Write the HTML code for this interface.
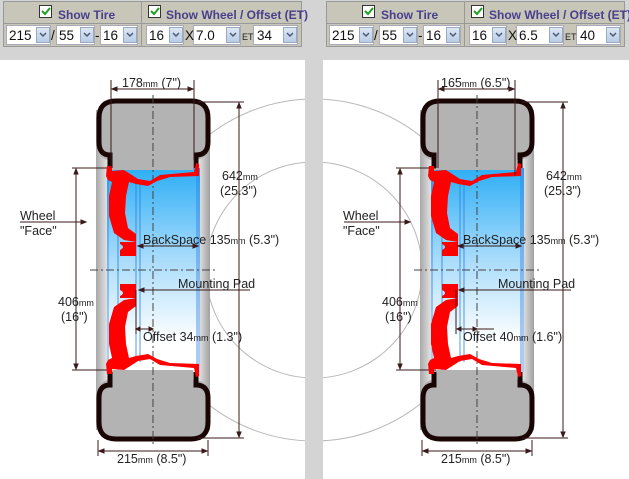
<!DOCTYPE html>
<html><head><style>
html,body{margin:0;padding:0;background:#d4d4d4}
svg{display:block}
text{font-family:"Liberation Sans",sans-serif;font-size:12.5px;fill:#222}
.h{font-weight:bold;fill:#4a3f8c;font-size:12px}
.s{font-size:13.5px;fill:#111}
.m{font-size:9px}
</style></head><body>
<svg width="629" height="479" viewBox="0 0 629 479" xmlns="http://www.w3.org/2000/svg">
<defs>
<linearGradient id="side" x1="0" x2="1" y1="0" y2="0">
<stop offset="0" stop-color="#a8a8a8"/><stop offset="0.1" stop-color="#e4e4e4"/><stop offset="0.5" stop-color="#ffffff"/><stop offset="0.9" stop-color="#e4e4e4"/><stop offset="1" stop-color="#a0a0a0"/>
</linearGradient>
<linearGradient id="blue" x1="0" x2="0" y1="0" y2="1">
<stop offset="0" stop-color="#2eaef5"/><stop offset="0.45" stop-color="#a9dcfb"/><stop offset="0.85" stop-color="#ffffff"/><stop offset="1" stop-color="#ffffff"/>
</linearGradient>
<linearGradient id="btn" x1="0" x2="0" y1="0" y2="1"><stop offset="0" stop-color="#dfe8f5"/><stop offset="1" stop-color="#b8cbe6"/></linearGradient>
<g id="tire">
<rect x="96" y="110" width="114" height="320" fill="url(#side)"/>
<rect x="107" y="168" width="93" height="204" fill="url(#blue)"/>
<g stroke="#2a7ee0" stroke-width="1" opacity="0.8">
<line x1="108" y1="168" x2="108" y2="372"/><line x1="118" y1="168" x2="118" y2="372"/><line x1="136" y1="180" x2="136" y2="362"/><line x1="140" y1="180" x2="140" y2="362"/><line x1="197" y1="168" x2="197" y2="372"/><line x1="199" y1="168" x2="199" y2="372"/>
</g>
<path d="M97,155 V118 Q97,99 116,99 H191 Q210,99 210,118 V142 Q210,160 193,160 V170 H110 V160 Q97,160 97,142 Z" fill="#b3b3b3"/>
<path d="M110,168 V155 Q99,155 99,142 V118 Q99,101 116,101 H191 Q208,101 208,118 V142 Q208,155 196,155 V168" fill="none" stroke="#1a0505" stroke-width="5"/>
<path d="M97,385 V422 Q97,441 116,441 H191 Q210,441 210,422 V398 Q210,380 193,380 V370 H110 V380 Q97,380 97,398 Z" fill="#b3b3b3"/>
<path d="M110,372 V385 Q99,385 99,398 V422 Q99,439 116,439 H191 Q208,439 208,422 V398 Q208,385 196,385 V372" fill="none" stroke="#1a0505" stroke-width="5"/>
<line x1="153" y1="95" x2="153" y2="446" stroke="#444" stroke-dasharray="8,3,2,3"/>
<line x1="90" y1="270" x2="216" y2="270" stroke="#444" stroke-dasharray="8,3,2,3"/>
<g stroke="#3a1a1a" stroke-width="1" fill="#3a1a1a">
<line x1="198" y1="102" x2="244" y2="102"/><line x1="198" y1="438" x2="244" y2="438"/><line x1="239" y1="104" x2="239" y2="436"/>
<path d="M239,103 l-2,5 h4z M239,437 l-2,-5 h4z"/>
<line x1="72" y1="168" x2="112" y2="168"/><line x1="72" y1="370" x2="112" y2="370"/><line x1="76" y1="170" x2="76" y2="368"/>
<path d="M76,169 l-2,5 h4z M76,369 l-2,-5 h4z"/>
<line x1="98" y1="440" x2="98" y2="456"/><line x1="208" y1="440" x2="208" y2="456"/><line x1="99" y1="451" x2="207" y2="451"/>
<path d="M99,451 l5,-2 v4z M207,451 l-5,-2 v4z"/>
<line x1="20" y1="222" x2="84" y2="222"/><path d="M86,222 l-5,-2 v4z"/>
</g>
</g>
<g id="wheel">
<path d="M106,176 L107,166 L112,166 L112,171 L124,170 L138,179 L150,181 L160,175 L194,172 L196,163 L199,164 L199,176 L170,177 L157,181 L148,186 L136,184 L129,182 L126,196 L125,213 L128,228 L136,234 L136,242 L124,240 L114,233 L109,216 L109,196 L112,182 L108,180 Z" fill="#ff0000"/>
<path d="M120,242 H136 V256 H120 V250 Q126,247 120,244 Z" fill="#ff0000"/>
</g>
</defs>
<rect width="629" height="479" fill="#d4d4d4"/>
<rect x="0" y="60" width="305" height="419" fill="#fff"/>
<rect x="323" y="60" width="306" height="419" fill="#fff"/>
<circle cx="314" cy="270" r="171" fill="none" stroke="#b8b8b8" stroke-width="1"/>
<circle cx="314" cy="270" r="108" fill="none" stroke="#b8b8b8" stroke-width="1"/>
<use href="#tire"/>
<use href="#tire" x="324"/>
<use href="#wheel"/>
<use href="#wheel" transform="translate(0,540) scale(1,-1)"/>
<use href="#wheel" x="322"/>
<use href="#wheel" transform="translate(322,540) scale(1,-1)"/>
<rect x="305" y="60" width="18" height="419" fill="#d4d4d4"/>

<g stroke="#3a1a1a" fill="#3a1a1a" stroke-width="1">
<line x1="111" y1="80" x2="111" y2="168"/><line x1="194" y1="80" x2="194" y2="168"/><line x1="112" y1="89" x2="193" y2="89"/><path d="M112,89 l5,-2 v4z M193,89 l-5,-2 v4z"/>
<line x1="138" y1="246" x2="198" y2="246"/><path d="M138,246 l5,-2 v4z M198,246 l-5,-2 v4z"/>
<line x1="139" y1="290" x2="250" y2="290"/><path d="M139,290 l5,-2 v4z"/>
<line x1="136" y1="329" x2="153" y2="329"/><path d="M136,329 l4,-2 v4z M153,329 l-4,-2 v4z"/>
<line x1="136" y1="290" x2="136" y2="334"/>
</g>
<text x="122" y="87">178<tspan class="m">mm</tspan> (7")</text>
<text x="222" y="180">642<tspan class="m">mm</tspan></text>
<text x="220" y="195">(25.3")</text>
<text x="20" y="220">Wheel</text>
<text x="20" y="235">"Face"</text>
<text x="143" y="244">BackSpace 135<tspan class="m">mm</tspan> (5.3")</text>
<text x="178" y="288">Mounting Pad</text>
<text x="58" y="306">406<tspan class="m">mm</tspan></text>
<text x="61" y="321">(16")</text>
<text x="143" y="341">Offset 34<tspan class="m">mm</tspan> (1.3")</text>
<text x="117" y="463">215<tspan class="m">mm</tspan> (8.5")</text>

<g stroke="#3a1a1a" fill="#3a1a1a" stroke-width="1">
<line x1="438" y1="80" x2="438" y2="168"/><line x1="515" y1="80" x2="515" y2="175"/><line x1="439" y1="89" x2="514" y2="89"/><path d="M439,89 l5,-2 v4z M514,89 l-5,-2 v4z"/>
<line x1="458" y1="246" x2="521" y2="246"/><path d="M458,246 l5,-2 v4z M521,246 l-5,-2 v4z"/>
<line x1="459" y1="290" x2="571" y2="290"/><path d="M459,290 l5,-2 v4z"/>
<line x1="457" y1="329" x2="494" y2="329"/><path d="M457,329 l4,-2 v4z M477,329 l-4,-2 v4z"/>
<line x1="456" y1="290" x2="456" y2="334"/>
</g>
<text x="441" y="87">165<tspan class="m">mm</tspan> (6.5")</text>
<text x="546" y="180">642<tspan class="m">mm</tspan></text>
<text x="544" y="195">(25.3")</text>
<text x="343" y="220">Wheel</text>
<text x="343" y="235">"Face"</text>
<text x="463" y="244">BackSpace 135<tspan class="m">mm</tspan> (5.3")</text>
<text x="498" y="288">Mounting Pad</text>
<text x="382" y="306">406<tspan class="m">mm</tspan></text>
<text x="385" y="321">(16")</text>
<text x="463" y="341">Offset 40<tspan class="m">mm</tspan> (1.6")</text>
<text x="441" y="463">215<tspan class="m">mm</tspan> (8.5")</text>

<g>
<rect x="3.5" y="1.5" width="298" height="45" fill="#c7c6b8" stroke="#999"/>
<line x1="3.5" y1="23.5" x2="301.5" y2="23.5" stroke="#999"/>
<line x1="141.5" y1="1.5" x2="141.5" y2="46.5" stroke="#999"/>
<rect x="39.5" y="5.5" width="12" height="12" fill="#fff" stroke="#333"/>
<path d="M42,11 l3,3 l5,-6" stroke="#1fa01f" stroke-width="2" fill="none"/>
<rect x="148.5" y="5.5" width="12" height="12" fill="#fff" stroke="#333"/>
<path d="M151,11 l3,3 l5,-6" stroke="#1fa01f" stroke-width="2" fill="none"/>
</g>
<text class="h" x="58" y="19">Show Tire</text>
<text class="h" x="166" y="19">Show Wheel / Offset (ET)</text>
<g transform="translate(323,0)">
<rect x="3.5" y="1.5" width="298" height="45" fill="#c7c6b8" stroke="#999"/>
<line x1="3.5" y1="23.5" x2="301.5" y2="23.5" stroke="#999"/>
<line x1="141.5" y1="1.5" x2="141.5" y2="46.5" stroke="#999"/>
<rect x="39.5" y="5.5" width="12" height="12" fill="#fff" stroke="#333"/>
<path d="M42,11 l3,3 l5,-6" stroke="#1fa01f" stroke-width="2" fill="none"/>
<rect x="148.5" y="5.5" width="12" height="12" fill="#fff" stroke="#333"/>
<path d="M151,11 l3,3 l5,-6" stroke="#1fa01f" stroke-width="2" fill="none"/>
<text class="h" x="58" y="19">Show Tire</text>
<text class="h" x="166" y="19">Show Wheel / Offset (ET)</text>
</g>
<g fill="#fff" stroke="#aab">
<rect x="6.5" y="25.5" width="44" height="19"/><rect x="56.5" y="25.5" width="38" height="19"/><rect x="100.5" y="25.5" width="37" height="19"/>
<rect x="146.5" y="25.5" width="37" height="19"/><rect x="193.5" y="25.5" width="47" height="19"/><rect x="253.5" y="25.5" width="44" height="19"/>
<rect x="329.5" y="25.5" width="44" height="19"/><rect x="379.5" y="25.5" width="38" height="19"/><rect x="423.5" y="25.5" width="37" height="19"/>
<rect x="469.5" y="25.5" width="37" height="19"/><rect x="516.5" y="25.5" width="47" height="19"/><rect x="576.5" y="25.5" width="44" height="19"/>
</g>
<g fill="url(#btn)" stroke="#9ab">
<rect x="36.5" y="27.5" width="13" height="15"/><rect x="80.5" y="27.5" width="13" height="15"/><rect x="123.5" y="27.5" width="13" height="15"/>
<rect x="169.5" y="27.5" width="13" height="15"/><rect x="226.5" y="27.5" width="13" height="15"/><rect x="283.5" y="27.5" width="13" height="15"/>
<rect x="359.5" y="27.5" width="13" height="15"/><rect x="403.5" y="27.5" width="13" height="15"/><rect x="446.5" y="27.5" width="13" height="15"/>
<rect x="492.5" y="27.5" width="13" height="15"/><rect x="549.5" y="27.5" width="13" height="15"/><rect x="606.5" y="27.5" width="13" height="15"/>
</g>
<g stroke="#4a5a7a" stroke-width="1.5" fill="none">
<path d="M40,33 l3,3 l3,-3 M84,33 l3,3 l3,-3 M127,33 l3,3 l3,-3 M173,33 l3,3 l3,-3 M230,33 l3,3 l3,-3 M287,33 l3,3 l3,-3"/>
<path d="M363,33 l3,3 l3,-3 M407,33 l3,3 l3,-3 M450,33 l3,3 l3,-3 M496,33 l3,3 l3,-3 M553,33 l3,3 l3,-3 M610,33 l3,3 l3,-3"/>
</g>
<text class="s" x="9" y="40">215</text><text class="s" x="51" y="40">/</text><text class="s" x="59" y="40">55</text><text class="s" x="95" y="40">-</text><text class="s" x="103" y="40">16</text>
<text class="s" x="149" y="40">16</text><text class="s" x="185" y="40">X</text><text class="s" x="196" y="40">7.0</text><text x="242" y="40" style="font-size:9px">ET</text><text class="s" x="257" y="40">34</text>
<text class="s" x="332" y="40">215</text><text class="s" x="374" y="40">/</text><text class="s" x="382" y="40">55</text><text class="s" x="418" y="40">-</text><text class="s" x="426" y="40">16</text>
<text class="s" x="472" y="40">16</text><text class="s" x="508" y="40">X</text><text class="s" x="519" y="40">6.5</text><text x="565" y="40" style="font-size:9px">ET</text><text class="s" x="580" y="40">40</text>
</svg>
</body></html>
